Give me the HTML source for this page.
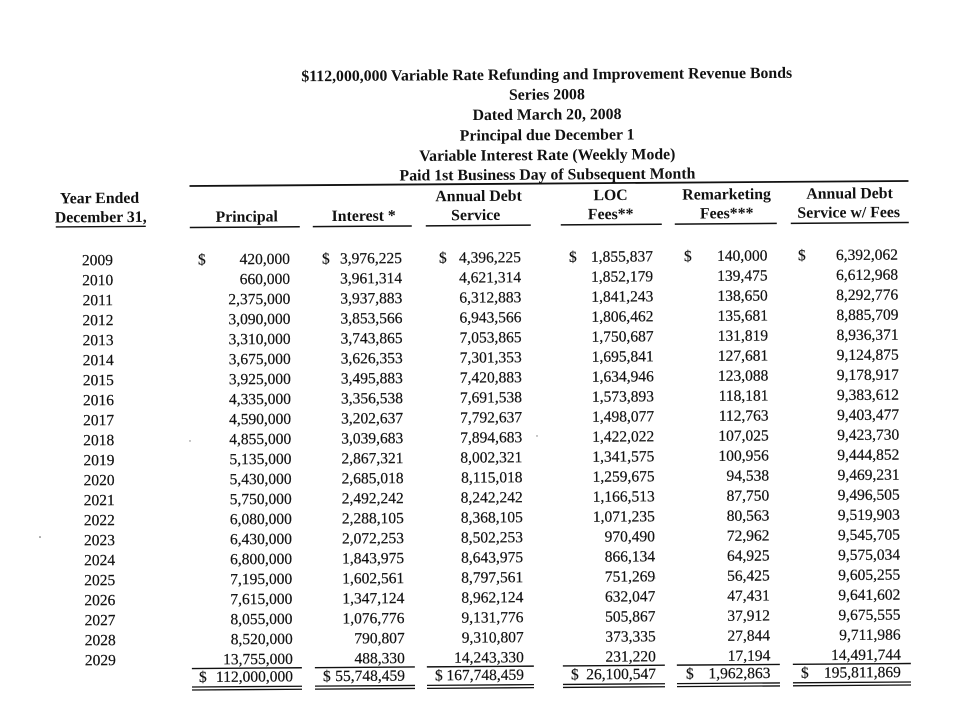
<!DOCTYPE html>
<html>
<head>
<meta charset="utf-8">
<style>
  html,body{margin:0;padding:0;background:#fff;}
  svg{display:block;}
  .t{font-family:"Liberation Serif",serif;font-weight:bold;font-size:15.8px;fill:#111;}
  .h{font-family:"Liberation Serif",serif;font-weight:bold;font-size:15.8px;fill:#111;}
  .d{font-family:"Liberation Serif",serif;font-size:15.5px;fill:#111;stroke:#111;stroke-width:0.2;}
  .r{text-anchor:end;}
  .c{text-anchor:middle;}
</style>
</head>
<body>
<svg width="960" height="720" viewBox="0 0 960 720" xmlns="http://www.w3.org/2000/svg">
<rect width="960" height="720" fill="#fff"/>
<g transform="rotate(-0.4 480 400)">
  <!-- Title -->
  <text class="t c" x="549" y="80">$112,000,000 Variable Rate Refunding and Improvement Revenue Bonds</text>
  <text class="t c" x="549" y="100">Series 2008</text>
  <text class="t c" x="549" y="120">Dated March 20, 2008</text>
  <text class="t c" x="549" y="140.5">Principal due December 1</text>
  <text class="t c" x="549" y="160.5">Variable Interest Rate (Weekly Mode)</text>
  <text class="t c" x="549" y="180">Paid 1st Business Day of Subsequent Month</text>

  <line x1="191" y1="184" x2="910" y2="184" stroke="#111" stroke-width="1.8"/>

  <!-- Headers -->
  <text class="h c" x="101" y="200.5">Year Ended</text>
  <text class="h c" x="102" y="219.5">December 31,</text>
  <line x1="57" y1="224" x2="147" y2="224" stroke="#111" stroke-width="1.3"/>

  <text class="h c" x="248" y="220">Principal</text>
  <text class="h c" x="365" y="220">Interest *</text>
  <text class="h c" x="480" y="201">Annual Debt</text>
  <text class="h c" x="477" y="220">Service</text>
  <text class="h c" x="612" y="201">LOC</text>
  <text class="h c" x="612" y="220">Fees**</text>
  <text class="h c" x="728" y="201">Remarketing</text>
  <text class="h c" x="728" y="220">Fees***</text>
  <text class="h c" x="851" y="201">Annual Debt</text>
  <text class="h c" x="850" y="220">Service w/ Fees</text>

  <g stroke="#111" stroke-width="1.5">
    <line x1="191" y1="225.5" x2="301" y2="225.5"/>
    <line x1="314" y1="225.5" x2="413" y2="225.5"/>
    <line x1="427" y1="225.5" x2="532" y2="225.5"/>
    <line x1="562" y1="225.5" x2="663" y2="225.5"/>
    <line x1="676" y1="225.5" x2="778" y2="225.5"/>
    <line x1="792" y1="225.5" x2="910" y2="225.5"/>
  </g>

  <!-- Dollar signs first row -->
  <text class="d" x="199" y="262.5">$</text>
  <text class="d" x="323" y="262.5">$</text>
  <text class="d" x="440" y="262.5">$</text>
  <text class="d" x="570" y="262.5">$</text>
  <text class="d" x="685" y="262.5">$</text>
  <text class="d" x="799" y="262.5">$</text>

  <!-- Years -->
  <g class="d c">
    <text class="d c" x="98.5" y="262.5">2009</text>
    <text class="d c" x="98.5" y="282.5">2010</text>
    <text class="d c" x="98.5" y="302.5">2011</text>
    <text class="d c" x="98.5" y="322.5">2012</text>
    <text class="d c" x="98.5" y="342.5">2013</text>
    <text class="d c" x="98.5" y="362.5">2014</text>
    <text class="d c" x="98.5" y="382.5">2015</text>
    <text class="d c" x="98.5" y="402.5">2016</text>
    <text class="d c" x="98.5" y="422.5">2017</text>
    <text class="d c" x="98.5" y="442.5">2018</text>
    <text class="d c" x="98.5" y="462.5">2019</text>
    <text class="d c" x="98.5" y="482.5">2020</text>
    <text class="d c" x="98.5" y="502.5">2021</text>
    <text class="d c" x="98.5" y="522.5">2022</text>
    <text class="d c" x="98.5" y="542.5">2023</text>
    <text class="d c" x="98.5" y="562.5">2024</text>
    <text class="d c" x="98.5" y="582.5">2025</text>
    <text class="d c" x="98.5" y="602.5">2026</text>
    <text class="d c" x="98.5" y="622.5">2027</text>
    <text class="d c" x="98.5" y="642.5">2028</text>
    <text class="d c" x="98.5" y="662.5">2029</text>
  </g>

  <!-- Principal -->
  <text class="d r" x="291" y="262.5">420,000</text>
  <text class="d r" x="291" y="282.5">660,000</text>
  <text class="d r" x="291" y="302.5">2,375,000</text>
  <text class="d r" x="291" y="322.5">3,090,000</text>
  <text class="d r" x="291" y="342.5">3,310,000</text>
  <text class="d r" x="291" y="362.5">3,675,000</text>
  <text class="d r" x="291" y="382.5">3,925,000</text>
  <text class="d r" x="291" y="402.5">4,335,000</text>
  <text class="d r" x="291" y="422.5">4,590,000</text>
  <text class="d r" x="291" y="442.5">4,855,000</text>
  <text class="d r" x="291" y="462.5">5,135,000</text>
  <text class="d r" x="291" y="482.5">5,430,000</text>
  <text class="d r" x="291" y="502.5">5,750,000</text>
  <text class="d r" x="291" y="522.5">6,080,000</text>
  <text class="d r" x="291" y="542.5">6,430,000</text>
  <text class="d r" x="291" y="562.5">6,800,000</text>
  <text class="d r" x="291" y="582.5">7,195,000</text>
  <text class="d r" x="291" y="602.5">7,615,000</text>
  <text class="d r" x="291" y="622.5">8,055,000</text>
  <text class="d r" x="291" y="642.5">8,520,000</text>
  <text class="d r" x="291" y="662.5">13,755,000</text>

  <!-- Interest -->
  <text class="d r" x="403" y="262.5">3,976,225</text>
  <text class="d r" x="403" y="282.5">3,961,314</text>
  <text class="d r" x="403" y="302.5">3,937,883</text>
  <text class="d r" x="403" y="322.5">3,853,566</text>
  <text class="d r" x="403" y="342.5">3,743,865</text>
  <text class="d r" x="403" y="362.5">3,626,353</text>
  <text class="d r" x="403" y="382.5">3,495,883</text>
  <text class="d r" x="403" y="402.5">3,356,538</text>
  <text class="d r" x="403" y="422.5">3,202,637</text>
  <text class="d r" x="403" y="442.5">3,039,683</text>
  <text class="d r" x="403" y="462.5">2,867,321</text>
  <text class="d r" x="403" y="482.5">2,685,018</text>
  <text class="d r" x="403" y="502.5">2,492,242</text>
  <text class="d r" x="403" y="522.5">2,288,105</text>
  <text class="d r" x="403" y="542.5">2,072,253</text>
  <text class="d r" x="403" y="562.5">1,843,975</text>
  <text class="d r" x="403" y="582.5">1,602,561</text>
  <text class="d r" x="403" y="602.5">1,347,124</text>
  <text class="d r" x="403" y="622.5">1,076,776</text>
  <text class="d r" x="403" y="642.5">790,807</text>
  <text class="d r" x="403" y="662.5">488,330</text>

  <!-- Annual Debt Service -->
  <text class="d r" x="522" y="262.5">4,396,225</text>
  <text class="d r" x="522" y="282.5">4,621,314</text>
  <text class="d r" x="522" y="302.5">6,312,883</text>
  <text class="d r" x="522" y="322.5">6,943,566</text>
  <text class="d r" x="522" y="342.5">7,053,865</text>
  <text class="d r" x="522" y="362.5">7,301,353</text>
  <text class="d r" x="522" y="382.5">7,420,883</text>
  <text class="d r" x="522" y="402.5">7,691,538</text>
  <text class="d r" x="522" y="422.5">7,792,637</text>
  <text class="d r" x="522" y="442.5">7,894,683</text>
  <text class="d r" x="522" y="462.5">8,002,321</text>
  <text class="d r" x="522" y="482.5">8,115,018</text>
  <text class="d r" x="522" y="502.5">8,242,242</text>
  <text class="d r" x="522" y="522.5">8,368,105</text>
  <text class="d r" x="522" y="542.5">8,502,253</text>
  <text class="d r" x="522" y="562.5">8,643,975</text>
  <text class="d r" x="522" y="582.5">8,797,561</text>
  <text class="d r" x="522" y="602.5">8,962,124</text>
  <text class="d r" x="522" y="622.5">9,131,776</text>
  <text class="d r" x="522" y="642.5">9,310,807</text>
  <text class="d r" x="522" y="662.5">14,243,330</text>

  <!-- LOC Fees -->
  <text class="d r" x="654" y="262.5">1,855,837</text>
  <text class="d r" x="654" y="282.5">1,852,179</text>
  <text class="d r" x="654" y="302.5">1,841,243</text>
  <text class="d r" x="654" y="322.5">1,806,462</text>
  <text class="d r" x="654" y="342.5">1,750,687</text>
  <text class="d r" x="654" y="362.5">1,695,841</text>
  <text class="d r" x="654" y="382.5">1,634,946</text>
  <text class="d r" x="654" y="402.5">1,573,893</text>
  <text class="d r" x="654" y="422.5">1,498,077</text>
  <text class="d r" x="654" y="442.5">1,422,022</text>
  <text class="d r" x="654" y="462.5">1,341,575</text>
  <text class="d r" x="654" y="482.5">1,259,675</text>
  <text class="d r" x="654" y="502.5">1,166,513</text>
  <text class="d r" x="654" y="522.5">1,071,235</text>
  <text class="d r" x="654" y="542.5">970,490</text>
  <text class="d r" x="654" y="562.5">866,134</text>
  <text class="d r" x="654" y="582.5">751,269</text>
  <text class="d r" x="654" y="602.5">632,047</text>
  <text class="d r" x="654" y="622.5">505,867</text>
  <text class="d r" x="654" y="642.5">373,335</text>
  <text class="d r" x="654" y="662.5">231,220</text>

  <!-- Remarketing Fees -->
  <text class="d r" x="768.5" y="262.5">140,000</text>
  <text class="d r" x="768.5" y="282.5">139,475</text>
  <text class="d r" x="768.5" y="302.5">138,650</text>
  <text class="d r" x="768.5" y="322.5">135,681</text>
  <text class="d r" x="768.5" y="342.5">131,819</text>
  <text class="d r" x="768.5" y="362.5">127,681</text>
  <text class="d r" x="768.5" y="382.5">123,088</text>
  <text class="d r" x="768.5" y="402.5">118,181</text>
  <text class="d r" x="768.5" y="422.5">112,763</text>
  <text class="d r" x="768.5" y="442.5">107,025</text>
  <text class="d r" x="768.5" y="462.5">100,956</text>
  <text class="d r" x="768.5" y="482.5">94,538</text>
  <text class="d r" x="768.5" y="502.5">87,750</text>
  <text class="d r" x="768.5" y="522.5">80,563</text>
  <text class="d r" x="768.5" y="542.5">72,962</text>
  <text class="d r" x="768.5" y="562.5">64,925</text>
  <text class="d r" x="768.5" y="582.5">56,425</text>
  <text class="d r" x="768.5" y="602.5">47,431</text>
  <text class="d r" x="768.5" y="622.5">37,912</text>
  <text class="d r" x="768.5" y="642.5">27,844</text>
  <text class="d r" x="768.5" y="662.5">17,194</text>

  <!-- Annual Debt Service w/ Fees -->
  <text class="d r" x="899" y="262.5">6,392,062</text>
  <text class="d r" x="899" y="282.5">6,612,968</text>
  <text class="d r" x="899" y="302.5">8,292,776</text>
  <text class="d r" x="899" y="322.5">8,885,709</text>
  <text class="d r" x="899" y="342.5">8,936,371</text>
  <text class="d r" x="899" y="362.5">9,124,875</text>
  <text class="d r" x="899" y="382.5">9,178,917</text>
  <text class="d r" x="899" y="402.5">9,383,612</text>
  <text class="d r" x="899" y="422.5">9,403,477</text>
  <text class="d r" x="899" y="442.5">9,423,730</text>
  <text class="d r" x="899" y="462.5">9,444,852</text>
  <text class="d r" x="899" y="482.5">9,469,231</text>
  <text class="d r" x="899" y="502.5">9,496,505</text>
  <text class="d r" x="899" y="522.5">9,519,903</text>
  <text class="d r" x="899" y="542.5">9,545,705</text>
  <text class="d r" x="899" y="562.5">9,575,034</text>
  <text class="d r" x="899" y="582.5">9,605,255</text>
  <text class="d r" x="899" y="602.5">9,641,602</text>
  <text class="d r" x="899" y="622.5">9,675,555</text>
  <text class="d r" x="899" y="642.5">9,711,986</text>
  <text class="d r" x="899" y="662.5">14,491,744</text>

  <!-- Rules above totals -->
  <g stroke="#111" stroke-width="1.4">
    <line x1="190" y1="666.5" x2="300" y2="666.5"/>
    <line x1="313" y1="666.5" x2="413" y2="666.5"/>
    <line x1="425" y1="666.5" x2="532" y2="666.5"/>
    <line x1="561" y1="666.5" x2="663" y2="666.5"/>
    <line x1="675" y1="666.5" x2="778" y2="666.5"/>
    <line x1="791" y1="666.5" x2="909" y2="666.5"/>
  </g>

  <!-- Totals -->
  <text class="d" x="197" y="680">$</text>
  <text class="d r" x="291" y="680">112,000,000</text>
  <text class="d" x="321" y="680">$</text>
  <text class="d r" x="403" y="680">55,748,459</text>
  <text class="d" x="433" y="680">$</text>
  <text class="d r" x="522" y="680">167,748,459</text>
  <text class="d" x="569" y="680">$</text>
  <text class="d r" x="654" y="680">26,100,547</text>
  <text class="d" x="684" y="680">$</text>
  <text class="d r" x="768.5" y="680">1,962,863</text>
  <text class="d" x="799" y="680">$</text>
  <text class="d r" x="899" y="680">195,811,869</text>

  <!-- Double rules -->
  <g stroke="#111" stroke-width="1.3">
    <line x1="190" y1="685" x2="300" y2="685"/>
    <line x1="190" y1="688" x2="300" y2="688"/>
    <line x1="313" y1="685" x2="413" y2="685"/>
    <line x1="313" y1="688" x2="413" y2="688"/>
    <line x1="425" y1="685" x2="532" y2="685"/>
    <line x1="425" y1="688" x2="532" y2="688"/>
    <line x1="561" y1="685" x2="663" y2="685"/>
    <line x1="561" y1="688" x2="663" y2="688"/>
    <line x1="675" y1="685" x2="778" y2="685"/>
    <line x1="675" y1="688" x2="778" y2="688"/>
    <line x1="791" y1="685" x2="909" y2="685"/>
    <line x1="791" y1="688" x2="909" y2="688"/>
  </g>
</g>
<!-- scan specks -->
<circle cx="40" cy="537" r="0.8" fill="#555"/>
<circle cx="190" cy="441" r="0.7" fill="#777"/>
<circle cx="537" cy="436" r="0.7" fill="#777"/>
<circle cx="655" cy="578" r="0.6" fill="#999"/>
</svg>
</body>
</html>
